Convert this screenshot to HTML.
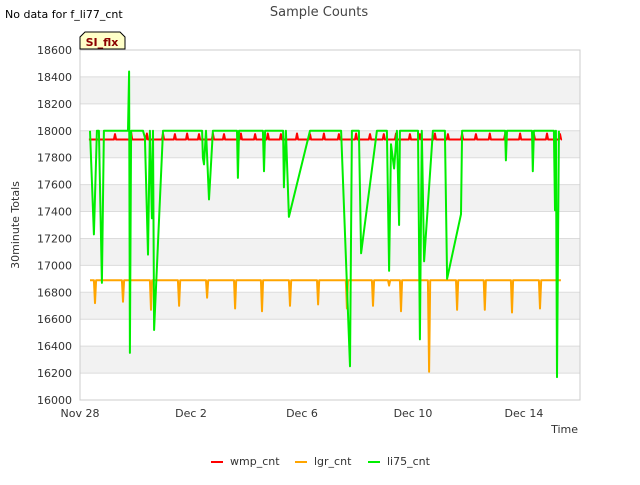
<!DOCTYPE html>
<html><head><meta charset="utf-8"><style>
body{margin:0;background:#fff;font-family:"Liberation Sans","DejaVu Sans",sans-serif}
svg text{font-family:"DejaVu Sans","Liberation Sans",sans-serif}
</style></head><body>
<svg id="c" width="640" height="480" viewBox="0 0 640 480" xmlns="http://www.w3.org/2000/svg">
<text x="5" y="18" font-size="11" fill="#000">No data for f_li77_cnt</text>
<text x="319" y="16" font-size="13" fill="#444" text-anchor="middle">Sample Counts</text>
<g id="grid"></g>
<g id="axes"></g>
<g id="series"></g>
<g>
<path d="M80,49 L80,37 L85,32 L120,32 L125,37 L125,49 Z" fill="#ffffc8" stroke="#000" stroke-width="1"/>
<text x="102" y="46" font-size="11" font-weight="bold" fill="#8b0000" text-anchor="middle">SI_flx</text>
</g>
<text x="19" y="225" font-size="11" fill="#333" text-anchor="middle" transform="rotate(-90 19 225)">30minute Totals</text>
<text x="578" y="433" font-size="11" fill="#333" text-anchor="end">Time</text>
<g id="legend"></g>
</svg>
<script>
const yTicks=[16000,16200,16400,16600,16800,17000,17200,17400,17600,17800,18000,18200,18400,18600];
const xTickDays=[0,4,8,12,16];
const xTickLabels=["Nov 28","Dec 2","Dec 6","Dec 10","Dec 14"];
const seriesNames=["wmp_cnt","lgr_cnt","li75_cnt"];
const seriesColors=["#ff0000","#ffa500","#00ee00"];
const wmpStart=0.32, wmpEnd=17.33, wmpBase=17935;
const wmpSpikeDays=[1.26,1.84,2.41,2.99,3.42,3.86,4.29,4.79,5.19,5.80,6.31,6.77,7.24,7.82,8.29,8.79,9.33,9.95,10.45,10.95,11.39,11.89,12.25,12.79,13.26,13.77,14.27,14.77,15.32,15.86,16.36,16.83,17.30];
const wmpSpikeVals=[17975,17990,17980,17980,17975,17980,17975,17980,17975,17980,17975,17980,17975,17980,17975,17980,17975,17980,17975,17975,17980,17975,17975,17980,17975,17980,17975,17980,17975,17980,17975,17980,17975];
const lgrStart=0.36, lgrEnd=17.33, lgrBase=16890;
const lgrDipDays=[0.54,1.55,2.56,3.57,4.58,5.59,6.56,7.57,8.58,9.62,10.56,11.14,11.57,12.58,13.59,14.59,15.57,16.58];
const lgrDipVals=[16720,16730,16670,16700,16760,16680,16660,16700,16710,16680,16700,16850,16660,16210,16670,16670,16650,16680];
const liDays=[0.36,0.50,0.61,0.68,0.79,0.86,1.73,1.77,1.80,1.84,2.27,2.34,2.45,2.52,2.59,2.63,2.67,2.99,4.40,4.43,4.47,4.54,4.65,4.79,5.66,5.69,5.73,6.59,6.63,6.67,7.32,7.35,7.42,7.53,8.29,9.41,9.73,9.80,10.05,10.13,10.70,11.06,11.14,11.21,11.32,11.42,11.50,11.53,12.18,12.25,12.32,12.40,12.72,13.15,13.23,13.73,13.77,15.32,15.35,15.39,16.29,16.32,16.36,17.08,17.12,17.15,17.19,17.26];
const liVals=[18000,17230,18000,18000,16870,18000,18000,18440,16350,18000,18000,17950,17080,18000,17350,18000,16520,18000,18000,17800,17750,18000,17490,18000,18000,17650,18000,18000,17700,18000,18000,17580,18000,17360,18000,18000,16250,18000,18000,17090,18000,18000,16960,17900,17720,18000,17300,18000,18000,16450,18000,17030,18000,18000,16900,17380,18000,18000,17780,18000,18000,17700,18000,18000,17410,18000,16170,18000];

const L=80,R=580,T=50,B=400,xMax=18.02,yMin=16000,yMaxV=18600;
const X=d=>L+d/xMax*(R-L);
const Y=v=>B-(v-yMin)/(yMaxV-yMin)*(B-T);
const NS="http://www.w3.org/2000/svg";
function mk(tag,at,parent){const e=document.createElementNS(NS,tag);for(const k in at)e.setAttribute(k,at[k]);parent.appendChild(e);return e;}
const grid=document.getElementById('grid'),axes=document.getElementById('axes'),ser=document.getElementById('series'),leg=document.getElementById('legend');
for(let i=0;i<yTicks.length-1;i++){
  if(i%2===1){const r=mk('rect',{x:L,y:Y(yTicks[i+1]),width:R-L,height:Y(yTicks[i])-Y(yTicks[i+1]),fill:'#f2f2f2'},grid);
  
  }
}
yTicks.forEach(v=>{
  const l=mk('line',{x1:L,x2:R,y1:Y(v),y2:Y(v),stroke:'#dcdcdc','stroke-width':1},grid);
  
  
  const t=mk('text',{x:L-8,y:Y(v)+4,'font-size':11,fill:'#333','text-anchor':'end'},axes);
  t.textContent=v;
  
  
});
const fr=mk('rect',{x:L,y:T,width:R-L,height:B-T,fill:'none',stroke:'#cccccc'},axes);


xTickDays.forEach((d,i)=>{
  const t=mk('text',{x:X(d),y:B+17,'font-size':11,fill:'#333','text-anchor':'middle'},axes);
  t.textContent=xTickLabels[i];
  
  
});
function spikePts(start,end,base,days,vals){
  const p=[[start,base]];
  days.forEach((d,i)=>{p.push([d-0.04,base]);p.push([d,vals[i]]);p.push([d+0.04,base]);});
  p.push([end,base]);return p;
}
function draw(pts,color,name){
  const pl=mk('polyline',{points:pts.map(p=>X(p[0]).toFixed(1)+','+Y(p[1]).toFixed(1)).join(' '),fill:'none',stroke:color,'stroke-width':2,'stroke-linejoin':'round'},ser);
  
  
}
draw(spikePts(lgrStart,lgrEnd,lgrBase,lgrDipDays,lgrDipVals),seriesColors[1],'lgr-cnt-line');
draw(spikePts(wmpStart,wmpEnd,wmpBase,wmpSpikeDays,wmpSpikeVals),seriesColors[0],'wmp-cnt-line');
draw(liDays.map((d,i)=>[d,liVals[i]]),seriesColors[2],'li75-cnt-line');
const lx=[211,295,368];
seriesNames.forEach((n,i)=>{
  const l=mk('line',{x1:lx[i],x2:lx[i]+12,y1:462,y2:462,stroke:seriesColors[i],'stroke-width':2},leg);
  
  
  const t=mk('text',{x:lx[i]+19,y:465,'font-size':11,fill:'#333'},leg);
  t.textContent=n;
  
  
});
</script>
</body></html>
